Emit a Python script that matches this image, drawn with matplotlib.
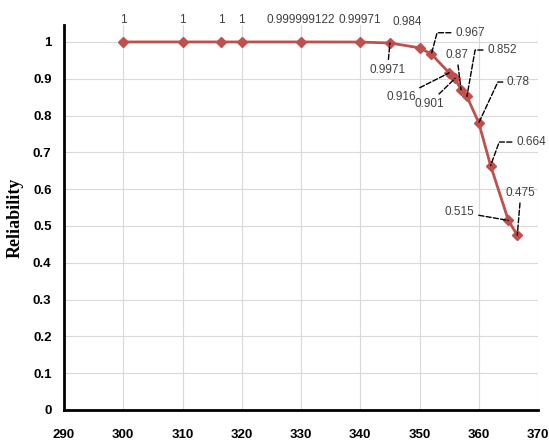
import matplotlib.pyplot as plt

temps = [300, 310, 316.5, 320, 330, 340, 345, 350, 352, 355, 356, 357, 358, 360, 362, 365, 366.5]
reliability = [1, 1, 1, 1, 0.999999122, 0.99971, 0.9971, 0.984, 0.967, 0.916, 0.901,
               0.87, 0.852, 0.78, 0.664, 0.515, 0.475]
point_labels = ['1', '1', '1', '1', '0.999999122', '0.99971', '0.9971', '0.984', '0.967',
                '0.916', '0.901', '0.87', '0.852', '0.78', '0.664', '0.515', '0.475']
# where each label sits (data coords) and how its dashed leader bends (None = no leader)
label_pos = [(300, 1.06), (310, 1.06), (316.5, 1.06), (320, 1.06), (330, 1.06), (340, 1.06),
             (344.6, 0.925), (348.0, 1.055), (358.5, 1.025), (346.9, 0.850), (351.6, 0.832),
             (356.3, 0.965), (363.9, 0.978), (366.7, 0.891), (368.8, 0.728), (356.8, 0.538),
             (367.1, 0.590)]
leader = [None] * 6 + ['arc3', None, 'angle,angleA=0,angleB=75,rad=0', 'arc3', 'arc3',
                       'arc3', 'angle,angleA=0,angleB=80,rad=0',
                       'angle,angleA=0,angleB=65,rad=0', 'angle,angleA=0,angleB=70,rad=0',
                       'arc3', 'arc3']

font = 'Liberation Sans'

fig = plt.figure(figsize=(5.49, 4.45), dpi=100)
ax = fig.add_axes([0.1166, 0.0787, 0.8634, 0.8651])

ax.plot(temps, reliability, color='#C0504D', linewidth=2, marker='D', markersize=5.5,
        zorder=3)

for x, y, lab, pos, ld in zip(temps, reliability, point_labels, label_pos, leader):
    if ld:
        ax.annotate(lab, xy=(x, y), xytext=pos, ha='center', va='center',
                    fontsize=8.5, family=font, color='#404040',
                    arrowprops=dict(arrowstyle='-', linestyle='--', color='black',
                                    linewidth=1, shrinkA=1, shrinkB=0,
                                    connectionstyle=ld))
    else:
        ax.text(pos[0], pos[1], lab, ha='center', va='center', fontsize=8.5,
                family=font, color='#404040')

ax.set_xlim(290, 370)
ax.set_ylim(0, 1.046)
ax.set_xticks(range(290, 371, 10))
ax.set_yticks([i / 10 for i in range(11)])
ax.set_yticklabels(['0', '0.1', '0.2', '0.3', '0.4', '0.5', '0.6', '0.7', '0.8', '0.9', '1'])
for t in ax.get_xticklabels() + ax.get_yticklabels():
    t.set_fontweight('bold')
    t.set_fontsize(9.5)
    t.set_family(font)
ax.tick_params(length=0, pad=9)
ax.tick_params(axis='x', pad=14)

ax.grid(True, color='#D9D9D9', linewidth=0.8)
ax.set_axisbelow(True)
for s in ['top', 'right']:
    ax.spines[s].set_visible(False)
for s in ['left', 'bottom']:
    ax.spines[s].set_linewidth(2)
    ax.spines[s].set_color('black')

ax.set_ylabel('Reliability', fontsize=13, fontweight='bold', family='Liberation Serif',
              labelpad=7)

plt.savefig('out.png', dpi=100)
